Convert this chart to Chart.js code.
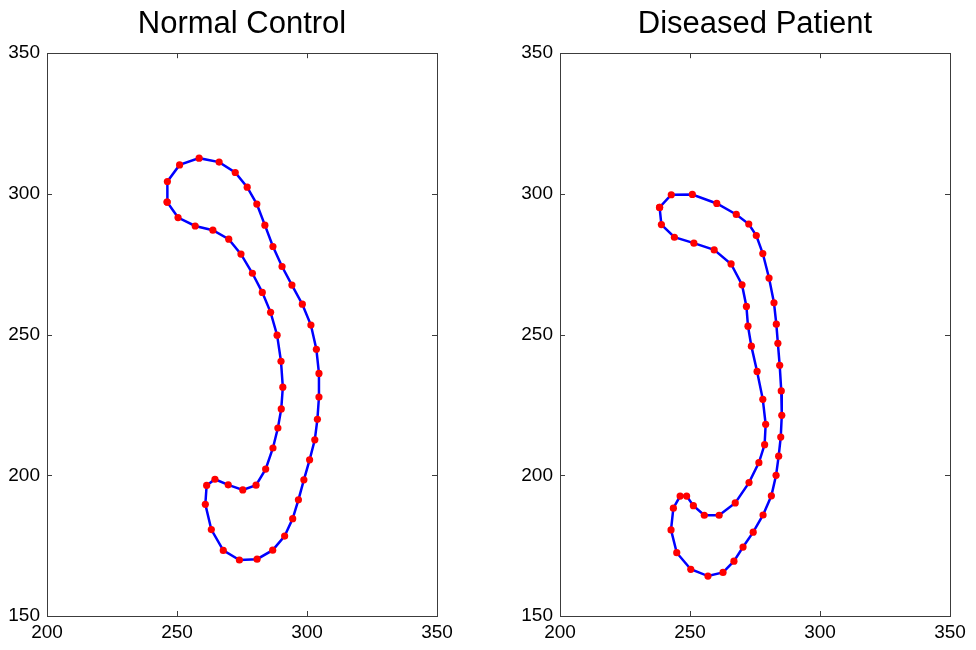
<!DOCTYPE html>
<html>
<head>
<meta charset="utf-8">
<script src="https://cdn.jsdelivr.net/npm/chart.js@4/dist/chart.umd.min.js"></script>
<style>
  html, body { margin: 0; background: #fff; overflow: hidden; width: 976px; height: 650px; }
  .wrap { position: absolute; top: 0; width: 484px; height: 650px; }
  #wrapNormal { left: 0; }
  #wrapPatient { left: 513px; }
</style>
</head>
<body>
<div class="wrap" id="wrapNormal"><canvas id="cNormal" width="484" height="650"></canvas></div>
<div class="wrap" id="wrapPatient"><canvas id="cPatient" width="484" height="650"></canvas></div>
<script>
// ===== Contour data =====
const titles = ['Normal Control', 'Diseased Patient'];
const xTicks = [200, 250, 300, 350];
const yTicks = [150, 200, 250, 300, 350];

const normalX = [246.2, 246.3, 251.0, 258.5, 266.2, 272.4, 277.0, 280.7, 283.8, 286.9,
    290.4, 294.2, 298.2, 301.5, 303.6, 304.6, 304.6, 304.0, 303.0, 301.0,
    298.8, 296.7, 294.5, 291.4, 286.8, 280.8, 274.0, 267.8, 263.2, 260.9,
    261.4, 264.6, 269.7, 275.3, 280.4, 284.1, 286.9, 288.8, 290.1, 290.7,
    290.0, 288.5, 286.0, 282.8, 279.0, 274.6, 269.9, 263.8, 257.0, 250.4];
const normalY = [297.1, 304.4, 310.3, 312.7, 311.3, 307.6, 302.4, 296.4, 288.9, 281.3,
    274.2, 267.6, 260.8, 253.4, 244.8, 236.2, 227.8, 219.9, 212.6, 205.5,
    198.4, 191.3, 184.6, 178.4, 173.4, 170.2, 169.9, 173.3, 180.7, 189.7,
    196.4, 198.6, 196.6, 194.8, 196.5, 202.2, 209.7, 216.8, 223.6, 231.3,
    240.5, 249.8, 257.9, 265.0, 271.8, 278.6, 283.9, 287.1, 288.6, 291.6];

const patientX = [238.3, 242.8, 250.9, 260.3, 267.8, 272.6, 275.5, 278.0, 280.4, 282.3,
    283.2, 283.8, 284.5, 285.1, 285.3, 284.9, 284.1, 283.1, 281.3, 278.1,
    274.3, 270.4, 266.9, 262.7, 256.9, 250.3, 244.9, 242.7, 243.6, 246.2,
    248.7, 251.3, 255.5, 261.2, 267.4, 272.7, 276.5, 278.7, 279.1, 278.0,
    275.8, 273.6, 272.3, 271.7, 270.0, 265.8, 259.3, 251.5, 244.0, 239.0];
const patientY = [295.2, 299.7, 299.8, 296.6, 292.7, 289.3, 285.2, 278.8, 270.1, 261.3,
    253.7, 246.9, 239.1, 230.0, 221.3, 213.6, 206.8, 200.0, 192.7, 185.9,
    179.8, 174.5, 169.5, 165.5, 164.2, 166.6, 172.5, 180.6, 188.3, 192.6,
    192.6, 189.2, 185.8, 185.8, 190.2, 197.4, 204.5, 210.9, 218.1, 227.0,
    236.9, 245.9, 253.0, 260.0, 267.7, 275.1, 280.1, 282.5, 284.6, 289.1];

const AXIS = '#3c3c3c';
const FONT = 'Liberation Sans, Arial, Helvetica, sans-serif';

// closed contour: last point joins back to the first
function closedPoints(xs, ys) {
    const pts = xs.map((x, i) => ({ x, y: ys[i] }));
    pts.push({ x: xs[0], y: ys[0] });
    return pts;
}

// inward ticks on all four sides (MATLAB style box)
const inwardTicks = {
    id: 'inwardTicks',
    afterDraw(chart) {
        const { ctx, chartArea: a, scales } = chart;
        const len = 5;
        ctx.save();
        ctx.strokeStyle = AXIS;
        ctx.lineWidth = 1;
        ctx.beginPath();
        scales.x.ticks.forEach(t => {
            const px = Math.round(scales.x.getPixelForValue(t.value)) + 0.5;
            ctx.moveTo(px, a.bottom); ctx.lineTo(px, a.bottom - len);
            ctx.moveTo(px, a.top); ctx.lineTo(px, a.top + len);
        });
        scales.y.ticks.forEach(t => {
            const py = Math.round(scales.y.getPixelForValue(t.value)) + 0.5;
            ctx.moveTo(a.left, py); ctx.lineTo(a.left + len, py);
            ctx.moveTo(a.right, py); ctx.lineTo(a.right - len, py);
        });
        ctx.stroke();
        ctx.restore();
    }
};

const edge = { display: true, color: AXIS, width: 1 };

function renderPanel(canvasId, title, xs, ys) {
    const ctx = document.getElementById(canvasId).getContext('2d');
    const sideW = 47;
    return new Chart(ctx, {
        type: 'scatter',
        data: { datasets: [{
            data: closedPoints(xs, ys),
            showLine: true,
            borderColor: '#0000ff', borderWidth: 2.5,
            pointBackgroundColor: '#ff0000', pointBorderWidth: 0, pointRadius: 3.6,
            tension: 0
        }]},
        options: { responsive: false, animation: false,
            layout: { padding: 0 },
            scales: {
                x: { type: 'linear', min: xTicks[0], max: xTicks[xTicks.length - 1],
                    afterBuildTicks: s => { s.ticks = xTicks.map(v => ({ value: v })); },
                    afterFit: s => { s.height = 34; },
                    grid: { display: false, drawTicks: false }, border: edge,
                    ticks: { padding: 5, color: '#000', font: { family: FONT, size: 19 }, maxRotation: 0 } },
                x2: { type: 'linear', position: 'top', min: xTicks[0], max: xTicks[xTicks.length - 1],
                    afterFit: s => { s.height = 0; },
                    grid: { display: false, drawTicks: false }, border: edge, ticks: { display: false } },
                y: { type: 'linear', min: yTicks[0], max: yTicks[yTicks.length - 1],
                    afterBuildTicks: s => { s.ticks = yTicks.map(v => ({ value: v })); },
                    afterFit: s => { s.width = sideW; },
                    grid: { display: false, drawTicks: false }, border: edge,
                    ticks: { padding: 7, color: '#000', font: { family: FONT, size: 19 } } },
                y2: { type: 'linear', position: 'right', min: yTicks[0], max: yTicks[yTicks.length - 1],
                    afterFit: s => { s.width = sideW; },
                    grid: { display: false, drawTicks: false }, border: edge, ticks: { display: false } }
            },
            plugins: {
                legend: { display: false }, tooltip: { enabled: false },
                title: { display: true, text: title, color: '#000',
                    font: { family: FONT, size: 31, weight: 'normal' }, padding: { top: 6, bottom: 10 } }
            }
        },
        plugins: [inwardTicks]
    });
}

renderPanel('cNormal', titles[0], normalX, normalY);
renderPanel('cPatient', titles[1], patientX, patientY);
</script>
</body>
</html>
